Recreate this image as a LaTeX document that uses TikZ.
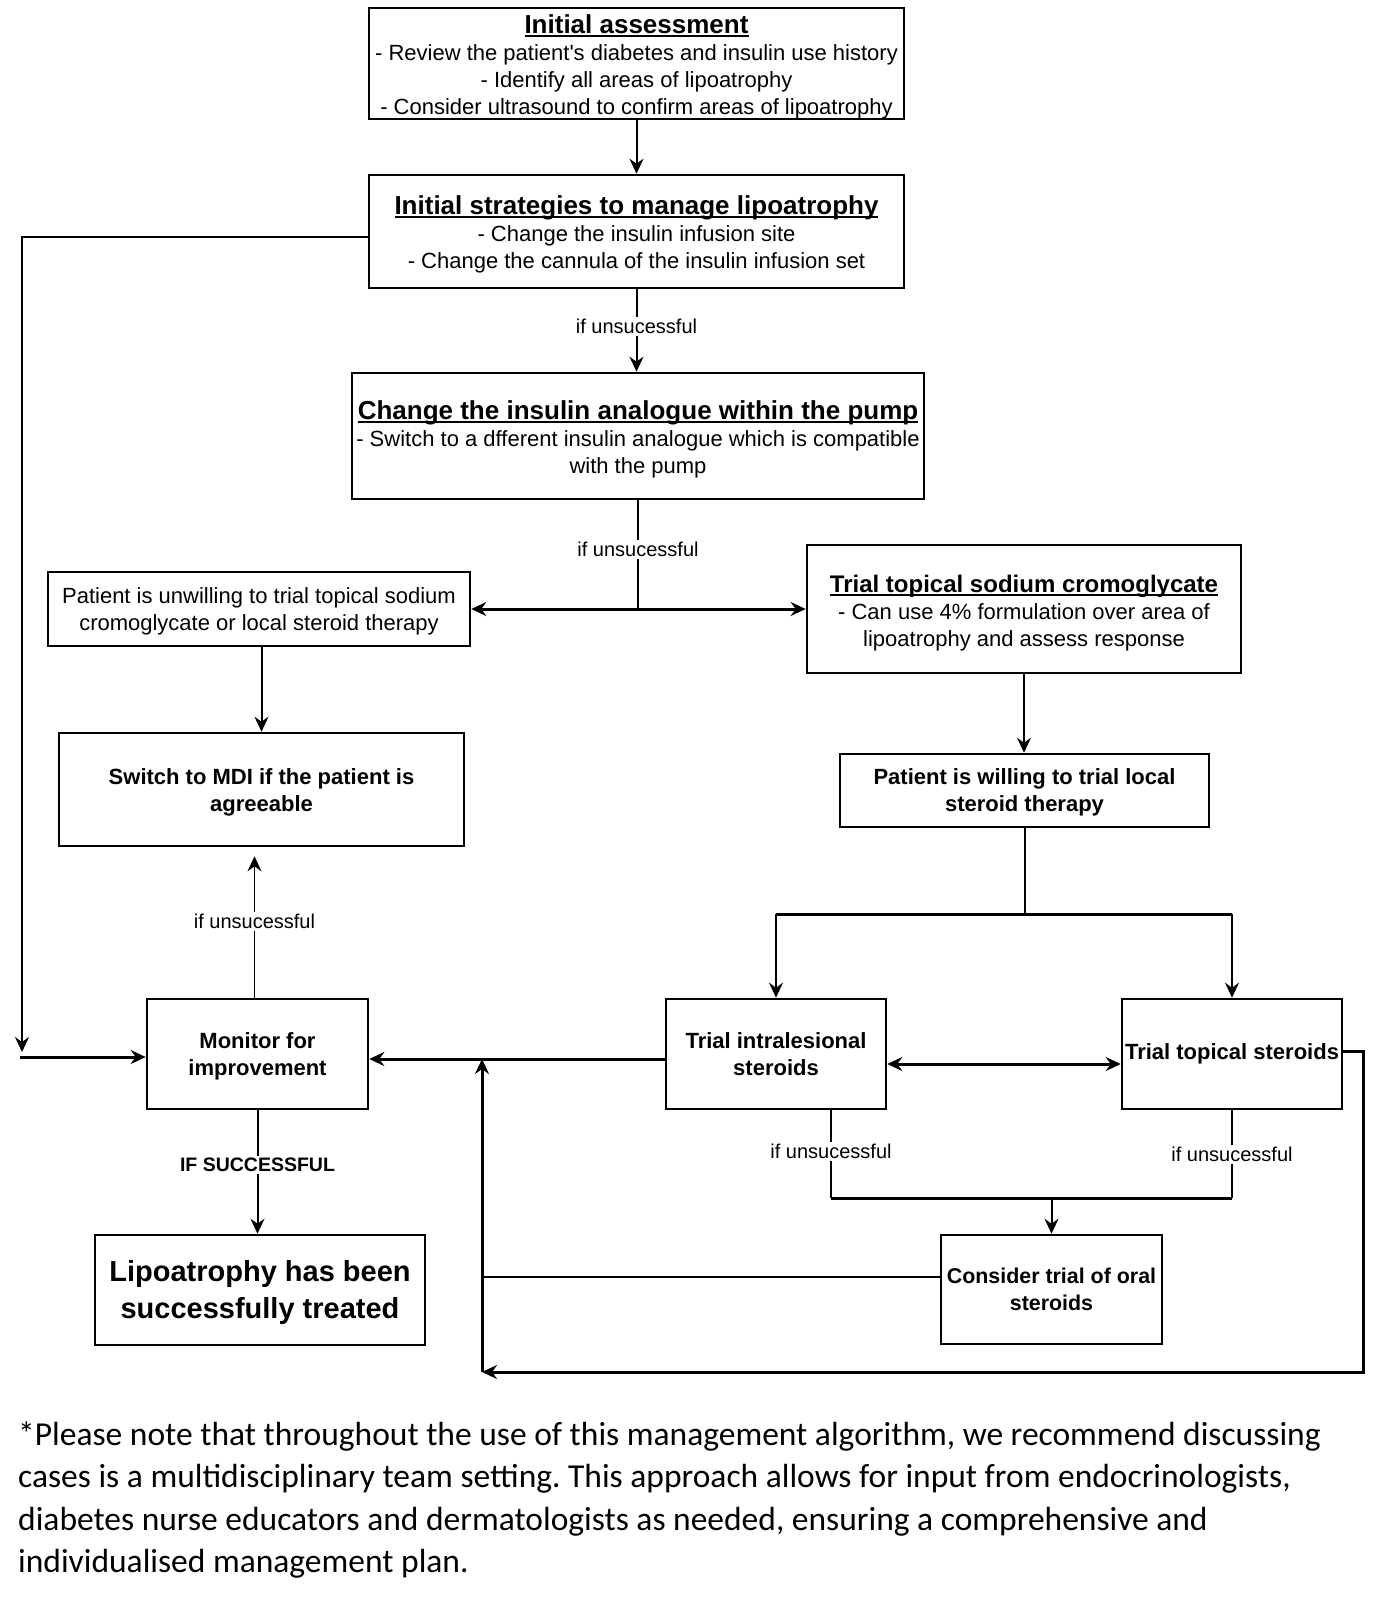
\documentclass[tikz,border=0pt]{standalone}
\usepackage{fontspec}
\setmainfont{Liberation Sans}
\newfontfamily\notefont{Carlito}
\usetikzlibrary{arrows.meta,calc}
\frenchspacing
\newcommand\myul[1]{\sbox0{#1}\rlap{\usebox0}\rule[-3.5pt]{\wd0}{1.8pt}}
\newcommand\ttl[2][26]{{\fontsize{#1}{27}\selectfont\bfseries\rule{0pt}{25pt}\myul{#2}}}
\newcommand\hs[1][20pt]{\rule{0pt}{#1}}
\begin{document}
\begin{tikzpicture}[x=1pt,y=-1pt,
  >={Stealth[length=15pt,width=14pt,inset=5pt]},
  box/.style={draw, line width=2.6pt, inner sep=0pt, align=center, font=\fontsize{22}{27}\selectfont},
  bbox/.style={box, font=\fontsize{22}{27}\selectfont\bfseries},
  lbl/.style={fill=white, inner sep=2pt, font=\fontsize{20}{24}\selectfont},
  conn/.style={line width=2pt},
  thk/.style={line width=3pt},
  notetext/.style={anchor=base west, inner sep=0pt, font=\notefont\fontsize{33.5}{42}\selectfont}]
\fill[white] (0,0) rectangle (1394,1598);
\useasboundingbox (0,0) rectangle (1394,1598);

% boxes
\node[box, minimum width=535pt, minimum height=111pt] (init) at (636.5,63.5)
  {\ttl{Initial assessment}\\- Review the patient\textquotesingle s diabetes and insulin use history\\- Identify all areas of lipoatrophy\\- Consider ultrasound to confirm areas of lipoatrophy};
\node[box, minimum width=535pt, minimum height=113pt] (strat) at (636.5,231.5)
  {\ttl{Initial strategies to manage lipoatrophy}\\- Change the insulin infusion site\\- Change the cannula of the insulin infusion set};
\node[box, minimum width=572pt, minimum height=126pt] (ana) at (638,436)
  {\ttl{Change the insulin analogue within the pump}\\- Switch to a dfferent insulin analogue which is compatible\\with the pump};
\node[box, minimum width=422pt, minimum height=74pt] (unw) at (259,609)
  {\hs Patient is unwilling to trial topical sodium\\cromoglycate or local steroid therapy};
\node[box, minimum width=434pt, minimum height=128pt] (crom) at (1024,609)
  {\ttl[24]{Trial topical sodium cromoglycate}\\- Can use 4\% formulation over area of\\lipoatrophy and assess response};
\node[bbox, minimum width=405pt, minimum height=113pt] (mdi) at (261.5,789.5)
  {\hs[21pt]Switch to MDI if the patient is\\agreeable};
\node[bbox, minimum width=369pt, minimum height=73pt] (will) at (1024.5,790.5)
  {\hs Patient is willing to trial local\\steroid therapy};
\node[bbox, minimum width=221pt, minimum height=110pt] (mon) at (257.5,1054)
  {\hs Monitor for\\improvement};
\node[bbox, minimum width=220pt, minimum height=110pt] (intra) at (776,1054)
  {Trial intralesional\\steroids};
\node[bbox, minimum width=220pt, minimum height=110pt] (top) at (1232,1054)
  {Trial topical steroids};
\node[bbox, minimum width=330pt, minimum height=110pt, font=\fontsize{29}{37}\selectfont\bfseries] (done) at (260,1290)
  {\hs[25pt]Lipoatrophy has been\\successfully treated};
\node[bbox, minimum width=221pt, minimum height=109pt, font=\fontsize{21.4}{27}\selectfont\bfseries] (oral) at (1051.5,1289.5)
  {Consider trial of oral\\steroids};

% connectors
\draw[conn,->] (init.south) -- (init.south |- strat.north);
\draw[conn,->] (strat.south) -- node[lbl,pos=0.45]{if unsucessful} (strat.south |- ana.north);
\coordinate (j1) at (ana.south |- unw.east);
\draw[conn] (ana.south) -- node[lbl,pos=0.45]{if unsucessful} (j1);
\draw[thk,<->] (unw.east) -- (crom.west);
\draw[conn,->] (unw.south -| mdi.north) -- (mdi.north);
\draw[conn,->] (crom.south) -- (crom.south |- will.north);
\coordinate (j2) at ($(will.south)+(0,86)$);
\draw[conn] (will.south) -- (j2);
\draw[thk] (j2 -| intra.north) -- (j2 -| top.north);
\draw[conn,->] (j2 -| intra.north) -- (intra.north);
\draw[conn,->] (j2 -| top.north) -- (top.north);
\draw[thk,<->] ([yshift=-10pt]intra.east) -- ([yshift=-10pt]top.west);
\draw[thk,->] ([yshift=-5pt]intra.west) -- ([yshift=-5pt]mon.east);

% left return
\coordinate (lt) at (22,1052);
\coordinate (ls) at (20,1057);
\draw[conn,->] ([yshift=-5.5pt]strat.west) -| (lt);
\draw[thk,->] (ls) -- ([yshift=-3pt]mon.west);

% monitor up / down
\draw[line width=1.3pt,->] ([xshift=-3pt]mon.north) -- node[lbl,pos=0.54]{if unsucessful} ($([xshift=-3pt]mon.north |- mdi.south)+(0,9)$);
\draw[conn,->] (mon.south) -- node[lbl,pos=0.44,font=\fontsize{19.5}{24}\selectfont\bfseries]{IF SUCCESSFUL} (mon.south |- done.north);

% steroids to oral
\coordinate (j3) at ($(intra.south)+(55,88)$);
\coordinate (j4) at (top.south |- j3);
\draw[conn] ($(intra.south)+(55,0)$) -- node[lbl,pos=0.47]{if unsucessful} (j3);
\draw[conn] (top.south) -- node[lbl,pos=0.5]{if unsucessful} (j4);
\draw[thk] (j3) -- (j4);
\draw[conn,->] (oral.north |- j3) -- (oral.north);

% loop back to monitor
\coordinate (vb) at (482,1372);
\coordinate (vt) at (482,1059);
\coordinate (rb) at (1363,1372);
\draw[thk,->] (vb) -- (vt);
\draw[conn] ([yshift=12.5pt]oral.west) -- ([yshift=12.5pt]oral.west -| vb);
\draw[thk,->] ([yshift=3pt]top.east) -| (rb) -- (vb);

% note
\node[notetext] (n1) at (18,1445) {*Please note that throughout the use of this management algorithm, we recommend discussing};
\node[notetext] (n2) at (18,1487) {cases is a multidisciplinary team setting. This approach allows for input from endocrinologists,};
\node[notetext] (n3) at (18,1530) {diabetes nurse educators and dermatologists as needed, ensuring a comprehensive and};
\node[notetext] (n4) at (18,1572) {individualised management plan.};
\end{tikzpicture}
\end{document}
